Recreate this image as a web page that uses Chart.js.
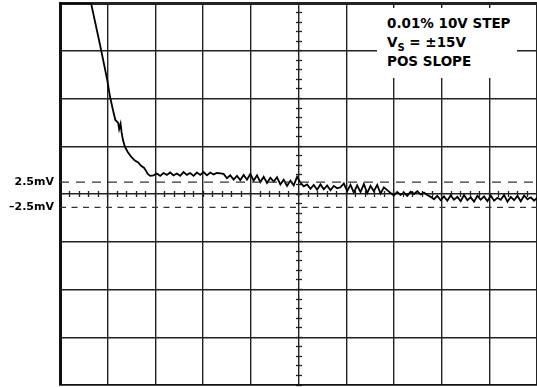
<!DOCTYPE html>
<html lang="en">
<head>
  <meta charset="UTF-8">
  <title>0.01% 10V STEP settling</title>
  <script src="https://cdn.jsdelivr.net/npm/chart.js"></script>
  <style>
    body {
      margin: 0;
      padding: 0;
      background: #fff;
    }

    .wrap {
      position: relative;
      width: 537px;
      height: 387px;
    }

    /* caja de texto arriba a la derecha */
    .note {
      position: absolute;
      left: 377px;
      top: 8px;
      width: 140px;
      height: 70px;
      background: #fff;
      box-sizing: border-box;
      padding: 6px 0 0 10px;
      font-family: "DejaVu Sans", sans-serif;
      font-weight: bold;
      font-size: 13.5px;
      line-height: 19px;
      color: #000;
      white-space: nowrap;
    }

    .note sub {
      font-size: 10px;
      line-height: 0;
    }
  </style>
</head>
<body>

  <div class="wrap">
    <canvas id="scope" width="537" height="387"></canvas>
    <div class="note">
      0.01% 10V STEP<br>
      V<sub>S</sub> = ±15V<br>
      POS SLOPE
    </div>
  </div>

  <script>
    // eje x en divisiones, eje y en mV (10 mV/div)
    const traceX = [
      0, 0.65, 0.84, 0.99, 1.05, 1.11, 1.16, 1.22, 1.24, 1.27, 1.29, 1.32, 1.36, 1.42, 1.49, 1.57, 1.64, 1.70, 1.76, 1.80, 1.84, 1.89,
      1.96, 2.03, 2.10, 2.17, 2.24, 2.31, 2.38, 2.45, 2.52, 2.59, 2.66, 2.73,
      2.80, 2.87, 2.94, 3.01, 3.08, 3.15, 3.22, 3.29, 3.36, 3.43,
      3.50, 3.57, 3.64, 3.71, 3.78, 3.85,
      3.92, 3.99, 4.06, 4.13, 4.20, 4.27, 4.34, 4.41, 4.48, 4.55,
      4.62, 4.69, 4.76, 4.83, 4.90, 4.97,
      5.04, 5.11, 5.18, 5.25, 5.32, 5.39, 5.46, 5.53, 5.60, 5.67, 5.74, 5.81,
      5.88, 5.95, 6.02, 6.09, 6.16, 6.23, 6.30, 6.37, 6.44, 6.51, 6.58, 6.65, 6.72, 6.79, 6.86,
      6.93, 7.00, 7.07, 7.14, 7.21, 7.28, 7.35, 7.42, 7.49, 7.56, 7.63, 7.70,
      7.77, 7.84, 7.91, 7.98, 8.05, 8.12, 8.19, 8.26, 8.33, 8.40, 8.47, 8.54, 8.61, 8.68, 8.75, 8.82,
      8.89, 8.96, 9.03, 9.10, 9.17, 9.24, 9.31, 9.38, 9.45, 9.52, 9.59, 9.66, 9.73, 9.80, 9.87, 9.94, 10.00
    ];
    const traceY = [
      40, 40, 31.2, 23.9, 20.3, 17.6, 15.5, 14.9, 13.6, 14.7, 13.0, 11.3, 9.9, 8.8, 7.8, 7.0, 6.6, 5.9, 5.5, 4.9, 4.2, 3.8,
      3.9, 4.3, 3.8, 4.4, 4.0, 4.5, 3.9, 4.3, 3.8, 4.6, 4.0, 4.4,
      3.8, 4.5, 4.0, 4.6, 3.9, 4.5, 4.1, 4.4, 4.3, 4.2,
      3.3, 3.9, 3.0, 3.8, 2.9, 4.0,
      3.0, 4.2, 2.8, 3.9, 2.5, 3.6, 2.3, 3.4, 2.6, 3.5,
      2.0, 3.0, 1.7, 2.8, 1.8, 3.6,
      2.4, 1.6, 2.0, 1.1, 1.9, 0.9, 2.0, 1.0, 1.8, 0.8, 1.7, 1.2,
      1.4, 2.2, 0.6, 1.9, 0.3, 1.8, 0.4, 2.1, 0.2, 1.7, 0.6, 1.9, 0.1, 1.4, 0.8,
      0.2, -0.3, 0.4, -0.2, 0.3, -0.4, 0.5, 0.0, 0.6, -0.1, 0.3, -0.2,
      -0.6, -1.1, -0.4, -1.3, -0.5, -1.4, -0.3, -1.2, -0.6, -1.5, -0.2, -1.3, -0.7, -1.6, -0.4, -1.2,
      -0.5, -1.5, -0.3, -1.4, -0.8, -1.2, -0.2, -1.6, -0.6, -1.3, -0.4, -1.5, -0.3, -1.1, -0.7, -1.4, -0.8
    ];

    // lineas de banda de error
    const bandLevels = [2.5, -2.8];
    const bandLabels = ['2.5mV', '–2.5mV'];

    const divisionsX = [0, 10];
    const divisionsY = [-40, 40];

    // los ejes con marcas menores cruzan el centro (desplazados medio tick)
    const centerTickX = 0.63;
    const centerTickY = 5.063;

    const traza = traceX.map((x, i) => ({ x: x, y: traceY[i] }));

    const ctx = document.getElementById('scope').getContext('2d');
    const chart = new Chart(ctx, {
      type: 'line',
      data: {
        datasets: [
          {
            label: 'upper band',
            data: [{ x: divisionsX[0], y: bandLevels[0] }, { x: divisionsX[1], y: bandLevels[0] }],
            borderColor: '#333',
            borderWidth: 1.3,
            borderDash: [9, 7],
            pointRadius: 0
          },
          {
            label: 'lower band',
            data: [{ x: divisionsX[0], y: bandLevels[1] }, { x: divisionsX[1], y: bandLevels[1] }],
            borderColor: '#333',
            borderWidth: 1.3,
            borderDash: [6, 5.5],
            pointRadius: 0
          },
          {
            label: 'settling',
            data: traza,
            borderColor: '#000',
            borderWidth: 1.8,
            pointRadius: 0,
            tension: 0
          }
        ]
      },
      options: {
        responsive: false,
        animation: false,
        layout: { padding: { top: 3, right: 0, bottom: 2, left: 0 } },
        plugins: {
          legend: { display: false },
          tooltip: { enabled: false }
        },
        scales: {
          x: {
            type: 'linear',
            min: divisionsX[0],
            max: divisionsX[1],
            ticks: { display: false, stepSize: 1 },
            grid: { color: '#222', lineWidth: 1.4, drawTicks: false },
            border: { display: true, color: '#111', width: 1.6 }
          },
          y: {
            type: 'linear',
            position: 'left',
            min: divisionsY[0],
            max: divisionsY[1],
            ticks: { display: false, stepSize: 10 },
            grid: {
              color: '#222',
              lineWidth: c => (c.tick && c.tick.value === divisionsY[1]) ? 3 : 1.4,
              drawTicks: false
            },
            border: { display: true, color: '#111', width: 3 }
          },
          yLbl: {
            type: 'linear',
            position: 'left',
            min: divisionsY[0],
            max: divisionsY[1],
            afterBuildTicks: s => { s.ticks = bandLevels.map(v => ({ value: v })); },
            afterFit: s => {
              s.width = 60;
              s.paddingTop = 0;
              s.paddingBottom = 0;
            },
            ticks: {
              padding: 6,
              color: '#000',
              font: { family: 'DejaVu Sans', weight: 'bold', size: 11 },
              callback: (v, i) => bandLabels[i]
            },
            grid: { display: false, drawTicks: false },
            border: { display: false }
          },
          xMinor: {
            type: 'linear',
            position: { y: centerTickX },
            min: divisionsX[0],
            max: divisionsX[1],
            ticks: { display: false, stepSize: 0.2 },
            grid: { drawOnChartArea: false, drawTicks: true, tickLength: 6, tickWidth: 1.3, tickColor: '#222' },
            border: { display: false }
          },
          yMinor: {
            type: 'linear',
            position: { x: centerTickY },
            min: divisionsY[0],
            max: divisionsY[1],
            ticks: { display: false, stepSize: 2 },
            grid: { drawOnChartArea: false, drawTicks: true, tickLength: 6, tickWidth: 1.3, tickColor: '#222' },
            border: { display: false }
          }
        }
      }
    });
  </script>

</body>
</html>
